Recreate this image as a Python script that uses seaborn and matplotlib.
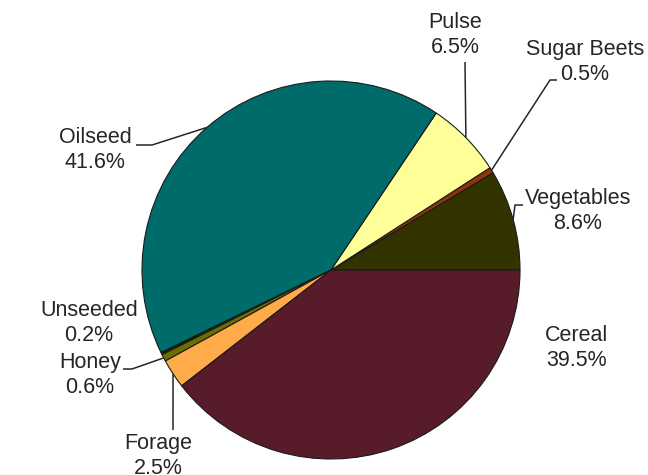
import numpy as np
import matplotlib
matplotlib.use("Agg")
import matplotlib.pyplot as plt
import seaborn as sns

# ---- data ----
categories = ["Vegetables", "Sugar Beets", "Pulse", "Oilseed", "Unseeded", "Honey", "Forage", "Cereal"]
shares = [8.6, 0.5, 6.5, 41.6, 0.2, 0.6, 2.5, 39.5]
pct_labels = ["8.6%", "0.5%", "6.5%", "41.6%", "0.2%", "0.6%", "2.5%", "39.5%"]

# ---- style ----
colors = ["#333300", "#8a3410", "#ffff99", "#006b6b", "#14240a", "#6e6e00", "#ffab4a", "#571b29"]

sns.set_theme(style="white")
plt.rcParams["font.family"] = ["Liberation Sans", "DejaVu Sans"]

W, H = 648, 475
fig = plt.figure(figsize=(W / 100, H / 100), dpi=100)
ax = fig.add_axes([0, 0, 1, 1])

def P(x, y):
    return (x, H - y)

cx, cy, R = 331, 270, 189
ax.pie(shares, colors=colors, startangle=0, counterclock=True, radius=R,
       center=P(cx, cy), wedgeprops=dict(edgecolor="#1a1a1a", linewidth=0.8))
ax.set_xlim(0, W)
ax.set_ylim(0, H)
ax.set_aspect("equal")
ax.axis("off")

# label layout (pixel coords, image orientation)
text_pos = {
    "Vegetables": (578, 211),
    "Sugar Beets": (585, 62),
    "Pulse": (455, 35),
    "Oilseed": (95, 150),
    "Unseeded": (89, 323),
    "Honey": (90, 375),
    "Forage": (158, 456),
    "Cereal": (577, 348),
}
leader_path = {
    "Vegetables": [(515, 205), (523, 205)],
    "Sugar Beets": [(550, 80), (557, 80)],
    "Pulse": [(465, 62)],
    "Oilseed": [(152, 145), (136, 145)],
    "Honey": [(132, 369), (123, 369)],
    "Forage": [(173, 430)],
}

cum = np.cumsum([0] + shares)
for i, cat in enumerate(categories):
    tx, ty = text_pos[cat]
    ax.text(*P(tx, ty), f"{cat}\n{pct_labels[i]}", ha="center", va="center",
            fontsize=15.5, color="#262626", linespacing=1.2)
    if cat in leader_path:
        mid = np.deg2rad((cum[i] + cum[i + 1]) / 2 / 100 * 360)
        ex, ey = cx + R * np.cos(mid), cy - R * np.sin(mid)
        pts = [(ex, ey)] + leader_path[cat]
        xs = [p[0] for p in pts]
        ys = [H - p[1] for p in pts]
        ax.plot(xs, ys, color="#262626", lw=1.1, solid_capstyle="butt")

fig.savefig("out.png", dpi=100, facecolor="white")
